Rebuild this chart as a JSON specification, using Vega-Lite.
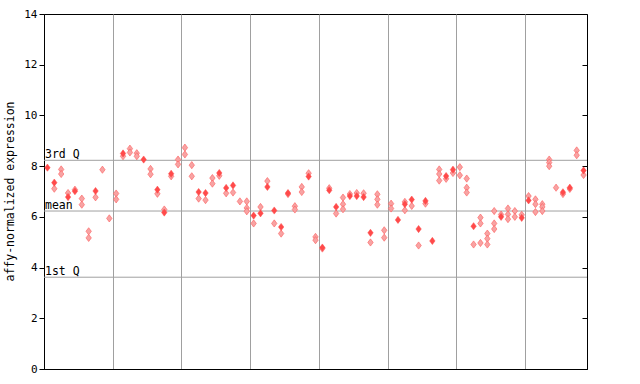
{
  "$schema": "https://vega.github.io/schema/vega-lite/v6.json",
  "width": 543,
  "height": 355,
  "autosize": "none",
  "padding": {"left": 44, "top": 14, "right": 53, "bottom": 15},
  "background": "white",
  "config": {
    "view": {"stroke": "black", "strokeWidth": 1},
    "font": "DejaVu Sans Mono"
  },
  "datasets": {
    "refs": [
      {"v": 8.23, "label": "3rd Q"},
      {"v": 6.23, "label": "mean"},
      {"v": 3.62, "label": "1st Q"}
    ],
    "pts": [
      {"i": 0, "v": 7.94, "t": "f"},
      {"i": 1, "v": 7.35, "t": "f"}, {"i": 1, "v": 7.11, "t": "c"},
      {"i": 2, "v": 7.87, "t": "c"}, {"i": 2, "v": 7.69, "t": "c"},
      {"i": 3, "v": 6.78, "t": "f"}, {"i": 3, "v": 6.94, "t": "c"},
      {"i": 4, "v": 7.01, "t": "f"}, {"i": 4, "v": 7.07, "t": "c"},
      {"i": 5, "v": 6.72, "t": "c"}, {"i": 5, "v": 6.48, "t": "c"},
      {"i": 6, "v": 5.43, "t": "c"}, {"i": 6, "v": 5.17, "t": "c"},
      {"i": 7, "v": 7.02, "t": "f"}, {"i": 7, "v": 6.77, "t": "c"},
      {"i": 8, "v": 7.86, "t": "c"},
      {"i": 9, "v": 5.94, "t": "c"},
      {"i": 10, "v": 6.92, "t": "c"}, {"i": 10, "v": 6.69, "t": "c"},
      {"i": 11, "v": 8.5, "t": "f"}, {"i": 11, "v": 8.39, "t": "c"},
      {"i": 12, "v": 8.69, "t": "c"}, {"i": 12, "v": 8.54, "t": "c"},
      {"i": 13, "v": 8.51, "t": "c"}, {"i": 13, "v": 8.39, "t": "c"},
      {"i": 14, "v": 8.26, "t": "f"},
      {"i": 15, "v": 7.89, "t": "c"}, {"i": 15, "v": 7.68, "t": "c"},
      {"i": 16, "v": 7.07, "t": "f"}, {"i": 16, "v": 6.91, "t": "c"},
      {"i": 17, "v": 6.17, "t": "f"}, {"i": 17, "v": 6.29, "t": "c"},
      {"i": 18, "v": 7.7, "t": "f"}, {"i": 18, "v": 7.6, "t": "c"},
      {"i": 19, "v": 8.26, "t": "c"}, {"i": 19, "v": 8.07, "t": "c"},
      {"i": 20, "v": 8.73, "t": "c"}, {"i": 20, "v": 8.46, "t": "c"},
      {"i": 21, "v": 8.04, "t": "c"}, {"i": 21, "v": 7.6, "t": "c"},
      {"i": 22, "v": 6.98, "t": "f"}, {"i": 22, "v": 6.72, "t": "c"},
      {"i": 23, "v": 6.94, "t": "f"}, {"i": 23, "v": 6.66, "t": "c"},
      {"i": 24, "v": 7.53, "t": "c"}, {"i": 24, "v": 7.31, "t": "c"},
      {"i": 25, "v": 7.73, "t": "f"}, {"i": 25, "v": 7.62, "t": "c"},
      {"i": 26, "v": 7.14, "t": "f"}, {"i": 26, "v": 6.93, "t": "c"},
      {"i": 27, "v": 7.24, "t": "f"}, {"i": 27, "v": 6.96, "t": "c"},
      {"i": 28, "v": 6.61, "t": "c"},
      {"i": 29, "v": 6.61, "t": "c"}, {"i": 29, "v": 6.35, "t": "c"}, {"i": 29, "v": 6.22, "t": "c"},
      {"i": 30, "v": 6.05, "t": "f"}, {"i": 30, "v": 5.74, "t": "c"},
      {"i": 31, "v": 6.14, "t": "f"}, {"i": 31, "v": 6.39, "t": "c"},
      {"i": 32, "v": 7.18, "t": "f"}, {"i": 32, "v": 7.41, "t": "c"},
      {"i": 33, "v": 6.25, "t": "f"}, {"i": 33, "v": 5.74, "t": "c"},
      {"i": 34, "v": 5.6, "t": "f"}, {"i": 34, "v": 5.34, "t": "c"},
      {"i": 35, "v": 6.94, "t": "f"}, {"i": 35, "v": 6.9, "t": "c"},
      {"i": 36, "v": 6.42, "t": "c"}, {"i": 36, "v": 6.29, "t": "c"},
      {"i": 37, "v": 7.18, "t": "c"}, {"i": 37, "v": 6.98, "t": "c"},
      {"i": 38, "v": 7.59, "t": "f"}, {"i": 38, "v": 7.72, "t": "c"},
      {"i": 39, "v": 5.21, "t": "c"}, {"i": 39, "v": 5.08, "t": "c"},
      {"i": 40, "v": 4.79, "t": "f"}, {"i": 40, "v": 4.75, "t": "c"},
      {"i": 41, "v": 7.05, "t": "f"}, {"i": 41, "v": 7.13, "t": "c"},
      {"i": 42, "v": 6.39, "t": "f"}, {"i": 42, "v": 6.13, "t": "c"},
      {"i": 43, "v": 6.76, "t": "c"}, {"i": 43, "v": 6.5, "t": "c"}, {"i": 43, "v": 6.3, "t": "c"},
      {"i": 44, "v": 6.82, "t": "f"}, {"i": 44, "v": 6.9, "t": "c"},
      {"i": 45, "v": 6.82, "t": "f"}, {"i": 45, "v": 6.94, "t": "c"},
      {"i": 46, "v": 6.78, "t": "f"}, {"i": 46, "v": 6.93, "t": "c"},
      {"i": 47, "v": 5.37, "t": "f"}, {"i": 47, "v": 4.99, "t": "c"},
      {"i": 48, "v": 6.89, "t": "c"}, {"i": 48, "v": 6.69, "t": "c"}, {"i": 48, "v": 6.48, "t": "c"},
      {"i": 49, "v": 5.47, "t": "c"}, {"i": 49, "v": 5.18, "t": "c"},
      {"i": 50, "v": 6.52, "t": "c"}, {"i": 50, "v": 6.33, "t": "c"},
      {"i": 51, "v": 5.88, "t": "f"},
      {"i": 52, "v": 6.5, "t": "f"}, {"i": 52, "v": 6.59, "t": "c"}, {"i": 52, "v": 6.26, "t": "c"},
      {"i": 53, "v": 6.68, "t": "f"}, {"i": 53, "v": 6.43, "t": "c"},
      {"i": 54, "v": 5.52, "t": "f"}, {"i": 54, "v": 4.87, "t": "c"},
      {"i": 55, "v": 6.63, "t": "f"}, {"i": 55, "v": 6.52, "t": "c"},
      {"i": 56, "v": 5.05, "t": "f"},
      {"i": 57, "v": 7.87, "t": "c"}, {"i": 57, "v": 7.69, "t": "c"}, {"i": 57, "v": 7.43, "t": "c"},
      {"i": 58, "v": 7.61, "t": "f"}, {"i": 58, "v": 7.5, "t": "c"},
      {"i": 59, "v": 7.86, "t": "f"}, {"i": 59, "v": 7.73, "t": "c"},
      {"i": 60, "v": 7.96, "t": "c"}, {"i": 60, "v": 7.64, "t": "c"},
      {"i": 61, "v": 7.51, "t": "c"}, {"i": 61, "v": 7.15, "t": "c"}, {"i": 61, "v": 6.96, "t": "c"},
      {"i": 62, "v": 5.63, "t": "f"}, {"i": 62, "v": 4.91, "t": "c"},
      {"i": 63, "v": 5.97, "t": "c"}, {"i": 63, "v": 5.74, "t": "c"}, {"i": 63, "v": 4.97, "t": "c"},
      {"i": 64, "v": 5.34, "t": "c"}, {"i": 64, "v": 5.14, "t": "c"}, {"i": 64, "v": 4.91, "t": "c"},
      {"i": 65, "v": 6.23, "t": "c"}, {"i": 65, "v": 5.74, "t": "c"}, {"i": 65, "v": 5.52, "t": "c"},
      {"i": 66, "v": 6.0, "t": "f"}, {"i": 66, "v": 6.09, "t": "c"},
      {"i": 67, "v": 6.33, "t": "c"}, {"i": 67, "v": 6.1, "t": "c"}, {"i": 67, "v": 5.91, "t": "c"},
      {"i": 68, "v": 6.23, "t": "c"}, {"i": 68, "v": 6.0, "t": "c"},
      {"i": 69, "v": 5.96, "t": "f"}, {"i": 69, "v": 6.08, "t": "c"},
      {"i": 70, "v": 6.65, "t": "f"}, {"i": 70, "v": 6.82, "t": "c"},
      {"i": 71, "v": 6.69, "t": "c"}, {"i": 71, "v": 6.5, "t": "c"}, {"i": 71, "v": 6.19, "t": "c"},
      {"i": 72, "v": 6.5, "t": "c"}, {"i": 72, "v": 6.39, "t": "c"}, {"i": 72, "v": 6.23, "t": "c"},
      {"i": 73, "v": 8.26, "t": "c"}, {"i": 73, "v": 8.14, "t": "c"}, {"i": 73, "v": 8.0, "t": "c"},
      {"i": 74, "v": 7.15, "t": "c"},
      {"i": 75, "v": 6.97, "t": "f"}, {"i": 75, "v": 6.9, "t": "c"},
      {"i": 76, "v": 7.15, "t": "f"}, {"i": 76, "v": 7.1, "t": "c"},
      {"i": 77, "v": 8.62, "t": "c"}, {"i": 77, "v": 8.43, "t": "c"},
      {"i": 78, "v": 7.83, "t": "f"}, {"i": 78, "v": 7.65, "t": "c"}
    ]
  },
  "layer": [
    {
      "data": {"name": "refs"},
      "mark": {"type": "rule", "color": "#a0a0a0", "strokeWidth": 1},
      "encoding": {
        "y": {
          "field": "v", "type": "quantitative",
          "scale": {"domain": [0, 14], "nice": false, "zero": true},
          "axis": {
            "orient": "right", "values": [0, 2, 4, 6, 8, 10, 12, 14],
            "tickSize": -5, "tickColor": "black", "labels": false,
            "domain": false, "grid": false, "title": null
          }
        }
      }
    },
    {
      "data": {"name": "refs"},
      "mark": {"type": "text", "align": "left", "baseline": "alphabetic", "dx": 1, "dy": -2, "fontSize": 11.5, "font": "DejaVu Sans Mono", "color": "black"},
      "encoding": {
        "x": {"datum": -0.5, "type": "quantitative"},
        "y": {"field": "v", "type": "quantitative", "axis": null},
        "text": {"field": "label"}
      }
    },
    {
      "data": {"name": "pts"},
      "transform": [{"filter": "datum.t === 'c'"}],
      "mark": {"type": "point", "shape": "M0,-1L0.75,0L0,1L-0.75,0Z", "filled": true, "fill": "#f7a3a3", "stroke": "#ff5a5a", "strokeWidth": 0.6, "size": 52, "opacity": 1},
      "encoding": {
        "x": {
          "field": "i", "type": "quantitative",
          "scale": {"domain": [-0.5, 78.5], "nice": false, "zero": false},
          "axis": {
            "values": [9.5, 19.5, 29.5, 39.5, 49.5, 59.5, 69.5],
            "grid": true, "gridColor": "#a0a0a0", "gridWidth": 1,
            "ticks": false, "labels": false, "title": null,
            "domainColor": "black"
          }
        },
        "y": {
          "field": "v", "type": "quantitative",
          "axis": {
            "orient": "left", "values": [0, 2, 4, 6, 8, 10, 12, 14],
            "tickSize": 5, "tickColor": "black", "domainColor": "black",
            "labelFont": "DejaVu Sans Mono", "labelFontSize": 11, "labelColor": "black", "labelPadding": 2,
            "grid": false,
            "title": "affy-normalized expression",
            "titleFont": "DejaVu Sans Mono", "titleFontSize": 11.5, "titleFontWeight": "normal", "titleColor": "black",
            "titleX": -34, "titleY": 177, "titleAngle": 270, "titleAlign": "center", "titleBaseline": "middle"
          }
        }
      }
    },
    {
      "data": {"name": "pts"},
      "transform": [{"filter": "datum.t === 'f'"}],
      "mark": {"type": "point", "shape": "M0,-1L0.75,0L0,1L-0.75,0Z", "filled": true, "fill": "#ff4a4a", "stroke": "#ff4a4a", "strokeWidth": 0.5, "size": 52, "opacity": 1},
      "encoding": {
        "x": {"field": "i", "type": "quantitative"},
        "y": {"field": "v", "type": "quantitative", "axis": null}
      }
    }
  ],
  "resolve": {"axis": {"y": "independent"}}
}
